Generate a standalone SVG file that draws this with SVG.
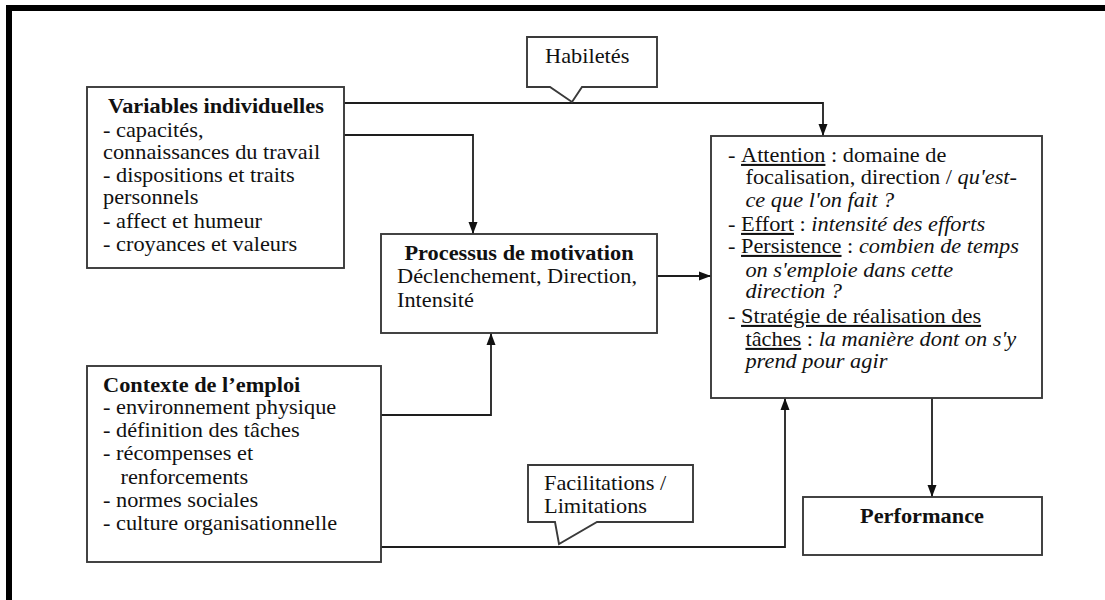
<svg xmlns="http://www.w3.org/2000/svg" width="1105" height="600" viewBox="0 0 1105 600">
  <style>
    .box { fill: #ffffff; stroke: #3a3a3a; stroke-width: 1.9; }
    .wire { fill: none; stroke: #1e1e1e; stroke-width: 1.8; }
    .frame { fill: #000000; }
    text { font-family: "Liberation Serif", "Times New Roman", serif; font-size: 20.5px; fill: #111111; }
    .b { font-weight: bold; }
    .i { font-style: italic; }
    .u { text-decoration: underline; }
  </style>
  <defs>
    <marker id="arrow" viewBox="0 0 12 10" refX="12" refY="5" markerWidth="12" markerHeight="10" markerUnits="userSpaceOnUse" orient="auto">
      <path d="M0,0.5 L12,5 L0,9.5 Z" fill="#111111"/>
    </marker>
  </defs>

  <rect width="1105" height="600" fill="#ffffff"/>

  <!-- page frame (top and left rules) -->
  <rect class="frame" x="6" y="5" width="1099" height="6"/>
  <rect class="frame" x="6" y="5" width="6" height="595"/>

  <!-- connectors -->
  <g id="connectors">
    <path class="wire" d="M344,103 H823 V136" marker-end="url(#arrow)"/>
    <path class="wire" d="M344,135 H473 V234" marker-end="url(#arrow)"/>
    <path class="wire" d="M381,415 H491 V333" marker-end="url(#arrow)"/>
    <path class="wire" d="M657,276 H711" marker-end="url(#arrow)"/>
    <path class="wire" d="M381,547 H785 V398" marker-end="url(#arrow)"/>
    <path class="wire" d="M932,398 V497" marker-end="url(#arrow)"/>
  </g>

  <!-- callout: Habiletés -->
  <g id="habiletes">
    <path class="box" d="M527,37 H657 V87 H582 L572,102 L550,87 H527 Z"/>
    <g transform="translate(545,0) scale(1.09,1)">
      <text x="0" y="63">Habiletés</text>
    </g>
  </g>

  <!-- callout: Facilitations / Limitations -->
  <g id="facilitations">
    <path class="box" d="M528,465 H693 V522 H597 L559,544 L555,522 H528 Z"/>
    <g transform="translate(544,0) scale(1.09,1)">
      <text x="0" y="490">Facilitations /</text>
      <text x="0" y="513">Limitations</text>
    </g>
  </g>

  <!-- node: individual variables -->
  <g id="variables-individuelles">
    <rect class="box" x="87" y="87" width="257" height="181"/>
    <g transform="translate(216,0) scale(1.09,1)">
      <text class="b" x="0" y="113" text-anchor="middle">Variables individuelles</text>
    </g>
    <g transform="translate(103,0) scale(1.09,1)">
      <text x="0" y="137">- capacités,</text>
      <text x="0" y="159">connaissances du travail</text>
      <text x="0" y="182">- dispositions et traits</text>
      <text x="0" y="204">personnels</text>
      <text x="0" y="228">- affect et humeur</text>
      <text x="0" y="251">- croyances et valeurs</text>
    </g>
  </g>

  <!-- node: motivation process -->
  <g id="processus-motivation">
    <rect class="box" x="381" y="234" width="276" height="99"/>
    <g transform="translate(519,0) scale(1.09,1)">
      <text class="b" x="0" y="260" text-anchor="middle">Processus de motivation</text>
    </g>
    <g transform="translate(397,0) scale(1.09,1)">
      <text x="0" y="283">Déclenchement, Direction,</text>
      <text x="0" y="307">Intensité</text>
    </g>
  </g>

  <!-- node: job context -->
  <g id="contexte-emploi">
    <rect class="box" x="87" y="366" width="294" height="196"/>
    <g transform="translate(103,0) scale(1.09,1)">
      <text class="b" x="0" y="392">Contexte de l’emploi</text>
      <text x="0" y="414">- environnement physique</text>
      <text x="0" y="437">- définition des tâches</text>
      <text x="0" y="460">- récompenses et</text>
      <text x="16" y="484">renforcements</text>
      <text x="0" y="507">- normes sociales</text>
      <text x="0" y="530">- culture organisationnelle</text>
    </g>
  </g>

  <!-- node: behaviour dimensions -->
  <g id="comportement">
    <rect class="box" x="711" y="136" width="331" height="262"/>
    <g transform="translate(728,0) scale(1.09,1)">
      <text x="0" y="162">- <tspan class="u">Attention</tspan> : domaine de</text>
      <text x="16" y="184">focalisation, direction / <tspan class="i">qu'est-</tspan></text>
      <text class="i" x="16" y="207">ce que l'on fait ?</text>
      <text x="0" y="231">- <tspan class="u">Effort</tspan> : <tspan class="i">intensité des efforts</tspan></text>
      <text x="0" y="253">- <tspan class="u">Persistence</tspan> : <tspan class="i">combien de temps</tspan></text>
      <text class="i" x="16" y="277">on s'emploie dans cette</text>
      <text class="i" x="16" y="298">direction ?</text>
      <text x="0" y="323">- <tspan class="u">Stratégie de réalisation des</tspan></text>
      <text x="16" y="346"><tspan class="u">tâches</tspan> : <tspan class="i">la manière dont on s'y</tspan></text>
      <text class="i" x="16" y="368">prend pour agir</text>
    </g>
  </g>

  <!-- node: performance -->
  <g id="performance">
    <rect class="box" x="803" y="497" width="239" height="58"/>
    <g transform="translate(922,0) scale(1.09,1)">
      <text class="b" x="0" y="523" text-anchor="middle">Performance</text>
    </g>
  </g>
</svg>
